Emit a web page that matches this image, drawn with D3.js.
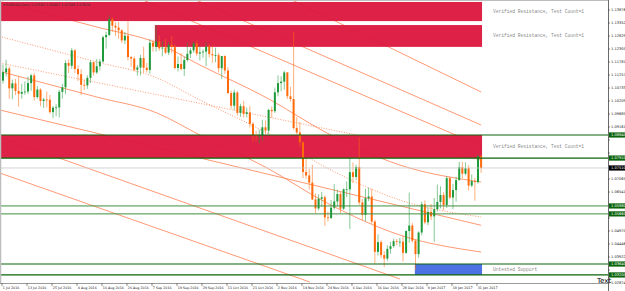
<!DOCTYPE html>
<html>
<head>
<meta charset="utf-8">
<script src="https://cdn.jsdelivr.net/npm/d3@7"></script>
<style>
  body { margin: 0; background: #fff; }
  svg { display: block; }
</style>
</head>
<body>
<div id="chart"></div>
<script>
// EURUSD daily, 1 Jul 2016 .. 1 Feb 2017 (154 bars)
const opens = [1.1103,1.1137,1.1152,1.1072,1.1092,1.1061,1.1050,1.1057,1.1059,1.1093,
 1.1124,1.1037,1.1067,1.1021,1.1027,1.1026,1.0976,1.0994,1.0995,1.1058,
 1.1076,1.1174,1.1163,1.1225,1.1150,1.1129,1.1086,1.1084,1.1114,1.1177,
 1.1136,1.1161,1.1180,1.1278,1.1287,1.1351,1.1324,1.1317,1.1306,1.1265,
 1.1284,1.1198,1.1192,1.1147,1.1156,1.1194,1.1155,1.1146,1.1256,1.1240,
 1.1261,1.1233,1.1236,1.1216,1.1247,1.1238,1.1154,1.1170,1.1150,1.1186,
 1.1211,1.1225,1.1253,1.1212,1.1217,1.1220,1.1240,1.1210,1.1205,1.1206,
 1.1153,1.1202,1.1144,1.1053,1.1002,1.1055,1.0973,1.1000,1.0969,1.0975,
 1.0929,1.0884,1.0881,1.0881,1.0915,1.0902,1.0985,1.0980,1.1056,1.1093,
 1.1099,1.1136,1.1040,1.1029,1.0912,1.0894,1.0855,1.0735,1.0721,1.0692,
 1.0624,1.0588,1.0627,1.0633,1.0552,1.0549,1.0591,1.0616,1.0646,1.0587,
 1.0665,1.0665,1.0734,1.0715,1.0755,1.0612,1.0562,1.0629,1.0636,1.0535,
 1.0413,1.0452,1.0400,1.0386,1.0425,1.0436,1.0456,1.0454,1.0454,1.0409,
 1.0497,1.0519,1.0458,1.0404,1.0491,1.0605,1.0532,1.0574,1.0556,1.0585,
 1.0614,1.0642,1.0602,1.0710,1.0632,1.0662,1.0702,1.0754,1.0728,1.0750,
 1.0680,1.0698,1.0694,1.0798];
const highs = [1.1168,1.1187,1.1160,1.1107,1.1110,1.1120,1.1090,1.1100,1.1120,1.1131,
 1.1134,1.1081,1.1072,1.1034,1.1059,1.1045,1.1000,1.1008,1.1066,1.1090,
 1.1185,1.1188,1.1234,1.1230,1.1164,1.1149,1.1106,1.1124,1.1185,1.1180,
 1.1190,1.1190,1.1284,1.1300,1.1366,1.1358,1.1338,1.1339,1.1310,1.1300,
 1.1342,1.1203,1.1200,1.1166,1.1207,1.1240,1.1174,1.1270,1.1268,1.1327,
 1.1285,1.1263,1.1271,1.1259,1.1283,1.1250,1.1200,1.1214,1.1200,1.1256,
 1.1236,1.1260,1.1265,1.1243,1.1229,1.1258,1.1250,1.1244,1.1236,1.1215,
 1.1202,1.1205,1.1157,1.1063,1.1067,1.1061,1.1010,1.1022,1.0994,1.1000,
 1.0937,1.0901,1.0906,1.0945,1.0942,1.0990,1.0999,1.1075,1.1124,1.1121,
 1.1143,1.1137,1.1078,1.1299,1.0956,1.0937,1.0857,1.0793,1.0747,1.0764,
 1.0648,1.0645,1.0655,1.0640,1.0575,1.0622,1.0686,1.0663,1.0654,1.0669,
 1.0697,1.0796,1.0773,1.0764,1.0874,1.0626,1.0667,1.0672,1.0667,1.0542,
 1.0484,1.0460,1.0416,1.0440,1.0453,1.0466,1.0465,1.0470,1.0477,1.0500,
 1.0652,1.0530,1.0462,1.0496,1.0615,1.0620,1.0592,1.0606,1.0630,1.0684,
 1.0677,1.0654,1.0718,1.0717,1.0687,1.0716,1.0775,1.0775,1.0774,1.0762,
 1.0725,1.0711,1.0805,1.0805];
const lows = [1.1092,1.1120,1.1030,1.1028,1.1045,1.0998,1.1030,1.1046,1.1050,1.1062,
 1.1022,1.1030,1.1000,1.0993,1.0995,1.0970,1.0952,1.0960,1.0955,1.1030,
 1.1048,1.1133,1.1150,1.1134,1.1102,1.1045,1.1065,1.1070,1.1093,1.1123,
 1.1130,1.1144,1.1175,1.1232,1.1282,1.1300,1.1283,1.1272,1.1254,1.1250,
 1.1184,1.1158,1.1140,1.1123,1.1124,1.1135,1.1136,1.1130,1.1220,1.1220,
 1.1223,1.1201,1.1210,1.1206,1.1214,1.1148,1.1140,1.1144,1.1122,1.1180,
 1.1194,1.1215,1.1202,1.1184,1.1195,1.1161,1.1196,1.1175,1.1177,1.1136,
 1.1110,1.1130,1.1048,1.0990,1.0985,1.0962,1.0957,1.0955,1.0955,1.0914,
 1.0858,1.0861,1.0850,1.0859,1.0887,1.0888,1.0953,1.0973,1.1040,1.1060,
 1.1066,1.1029,1.1019,1.0905,1.0887,1.0836,1.0710,1.0708,1.0665,1.0622,
 1.0569,1.0580,1.0595,1.0518,1.0535,1.0546,1.0583,1.0597,1.0570,1.0582,
 1.0634,1.0505,1.0690,1.0702,1.0602,1.0540,1.0536,1.0617,1.0526,1.0366,
 1.0398,1.0389,1.0352,1.0377,1.0405,1.0430,1.0440,1.0433,1.0374,1.0405,
 1.0450,1.0450,1.0340,1.0389,1.0480,1.0524,1.0520,1.0541,1.0453,1.0575,
 1.0588,1.0580,1.0590,1.0625,1.0585,1.0615,1.0700,1.0710,1.0722,1.0660,
 1.0674,1.0619,1.0688,1.0731];
const closes = [1.1137,1.1152,1.1072,1.1092,1.1061,1.1050,1.1057,1.1059,1.1093,1.1124,
 1.1037,1.1067,1.1021,1.1027,1.1026,1.0976,1.0994,1.0995,1.1058,1.1076,
 1.1174,1.1163,1.1225,1.1150,1.1129,1.1086,1.1084,1.1114,1.1177,1.1136,
 1.1161,1.1180,1.1278,1.1287,1.1351,1.1324,1.1317,1.1306,1.1265,1.1284,
 1.1198,1.1192,1.1147,1.1156,1.1194,1.1155,1.1146,1.1256,1.1240,1.1261,
 1.1233,1.1236,1.1216,1.1247,1.1238,1.1154,1.1170,1.1150,1.1186,1.1211,
 1.1225,1.1253,1.1212,1.1217,1.1220,1.1240,1.1210,1.1205,1.1206,1.1153,
 1.1202,1.1144,1.1053,1.1002,1.1055,1.0973,1.1000,1.0969,1.0975,1.0929,
 1.0884,1.0881,1.0881,1.0915,1.0902,1.0985,1.0980,1.1056,1.1093,1.1099,
 1.1136,1.1040,1.1029,1.0912,1.0894,1.0855,1.0735,1.0721,1.0692,1.0624,
 1.0588,1.0627,1.0633,1.0552,1.0549,1.0591,1.0616,1.0646,1.0587,1.0665,
 1.0665,1.0734,1.0715,1.0755,1.0612,1.0562,1.0629,1.0636,1.0535,1.0413,
 1.0452,1.0400,1.0386,1.0425,1.0436,1.0456,1.0454,1.0454,1.0409,1.0497,
 1.0519,1.0458,1.0404,1.0491,1.0605,1.0532,1.0574,1.0556,1.0585,1.0614,
 1.0642,1.0602,1.0710,1.0632,1.0662,1.0702,1.0754,1.0728,1.0750,1.0680,
 1.0698,1.0694,1.0798,1.0751];

// date labels, one every 8 bars
const dateLabels = ["1 Jul 2016","13 Jul 2016","25 Jul 2016","4 Aug 2016","16 Aug 2016",
 "26 Aug 2016","7 Sep 2016","19 Sep 2016","29 Sep 2016","11 Oct 2016","21 Oct 2016",
 "2 Nov 2016","14 Nov 2016","24 Nov 2016","6 Dec 2016","16 Dec 2016","28 Dec 2016",
 "9 Jan 2017","19 Jan 2017","31 Jan 2017"];
const priceTicks = [1.13876,1.13352,1.12829,1.12305,1.11781,1.11257,1.10733,1.10209,
 1.09685,1.09161,1.08637,1.08113,1.07589,1.07065,1.06541,1.06017,1.05493,1.04970,
 1.04446,1.03922,1.03398,1.02874];

// supply / demand zones: [fromBar, toBar], [top, bottom]
const zoneBars = [[-0.7,153.3],[48.6,153.3],[-0.7,153.3],[131.8,153.3]];
const zonePrices = [[1.1420,1.1343],[1.1327,1.1239],[1.0884,1.0791],[1.0364,1.0320]];
const zoneKinds = ["res","res","res","sup"];
const zoneTexts = ["Verified Resistance, Test Count=1","Verified Resistance, Test Count=1",
 "Verified Resistance, Test Count=1","Untested Support"];

// horizontal level lines (green) and current bid
const levels = [1.0884, 1.0791, 1.0598, 1.0566, 1.0364, 1.0320];
const levelStrong = [true, true, false, false, true, true];
const bid = 1.0751;

// regression channel curves: bar positions and prices
const curveBars = [-0.3, 30, 49.3, 63, 84.5, 103.7, 127, 153];
const curveUpper = [1.14199,1.13191,1.12546,1.11660,1.10330,1.08919,1.07630,1.06945];
const curveMid   = [1.12788,1.11781,1.11136,1.10249,1.08919,1.07509,1.06219,1.05534];
const curveLower = [1.11378,1.10370,1.09725,1.08839,1.07509,1.06098,1.04809,1.04124];

// straight trend lines: [bar1, price1, bar2, price2, dotted]
const trendLines = [
  [61.8, 1.14279, 153, 1.09242, false],
  [92.5, 1.14279, 153, 1.10572, false],
  [44.8, 1.14279, 153, 1.08396, false],
  [-1,   1.11740, 153, 1.07831, true],
  [-1,   1.07307, 98.2, 1.02915, false],
  [-1,   1.09846, 153, 1.05200, false],
  [-1,   1.08758, 127, 1.03036, false]
];

const title = "EURUSD,Daily  1.07563 1.08047 1.07306 1.07626";

// =====================
// set up
// =====================
const W = 625, H = 291;
const plot = {left: 1, right: 608, top: 1, bottom: 283};

const x = d3.scaleLinear().domain([0, 153]).range([3, 481.1]);
const y = d3.scaleLinear().domain([1.14239, 1.02875]).range([1, 283]);

const svg = d3.select("#chart").append("svg")
    .attr("width", W)
    .attr("height", H)
    .style("font-family", "'DejaVu Sans', sans-serif");

svg.append("rect").attr("width", W).attr("height", H).attr("fill", "#fff");

svg.append("defs").append("clipPath")
    .attr("id", "clip")
  .append("rect")
    .attr("x", plot.left).attr("y", plot.top)
    .attr("width", plot.right - plot.left)
    .attr("height", plot.bottom - plot.top);

const g = svg.append("g").attr("clip-path", "url(#clip)");

// orange lines (behind zones)
const lineCol = "#ff7f50";
const curve = d3.line().x(d => x(d[0])).y(d => y(d[1])).curve(d3.curveMonotoneX);
[[curveUpper, false], [curveMid, true], [curveLower, false]].forEach(([vals, dotted]) => {
  g.append("path")
      .datum(curveBars.map((b, i) => [b, vals[i]]))
      .attr("d", curve)
      .attr("fill", "none")
      .attr("stroke", lineCol)
      .attr("stroke-width", 0.8)
      .attr("stroke-dasharray", dotted ? "1,1.6" : null);
});

g.selectAll(".trend")
  .data(trendLines)
  .join("line")
    .attr("class", "trend")
    .attr("x1", d => x(d[0])).attr("y1", d => y(d[1]))
    .attr("x2", d => x(d[2])).attr("y2", d => y(d[3]))
    .attr("stroke", lineCol)
    .attr("stroke-width", 0.8)
    .attr("stroke-dasharray", d => d[4] ? "1,1.6" : null);

// zones
g.selectAll(".zone")
  .data(zoneBars.map((b, i) => ({b, p: zonePrices[i], kind: zoneKinds[i]})))
  .join("rect")
    .attr("class", "zone")
    .attr("x", d => x(d.b[0]))
    .attr("y", d => y(d.p[0]))
    .attr("width", d => x(d.b[1]) - x(d.b[0]))
    .attr("height", d => y(d.p[1]) - y(d.p[0]))
    .attr("fill", d => d.kind === "res" ? "#dc143c" : "#4169e1")
    .attr("fill-opacity", 0.94);

// zone texts
svg.selectAll(".ztxt")
  .data(zoneTexts)
  .join("text")
    .attr("class", "ztxt")
    .attr("x", x(153.3) + 11)
    .attr("y", (d, i) => (y(zonePrices[i][0]) + y(zonePrices[i][1])) / 2 + 1.5)
    .attr("font-family", "'Liberation Mono', monospace")
    .attr("font-size", 4.6)
    .attr("fill", "#8a8a8a")
    .text(d => d);

// level lines
svg.selectAll(".lvl")
  .data(levels)
  .join("line")
    .attr("class", "lvl")
    .attr("x1", plot.left).attr("x2", plot.right)
    .attr("y1", d => y(d)).attr("y2", d => y(d))
    .attr("stroke", (d, i) => levelStrong[i] ? "#0a640a" : "#3f8f3f")
    .attr("stroke-width", (d, i) => levelStrong[i] ? 1.2 : 1);

// bid line
svg.append("line")
    .attr("x1", plot.left).attr("x2", plot.right)
    .attr("y1", y(bid)).attr("y2", y(bid))
    .attr("stroke", "#c8c8c8").attr("stroke-width", 0.8);

// candles
const bars = d3.range(opens.length).map(i => ({
  i, o: opens[i], h: highs[i], l: lows[i], c: closes[i]
}));
const bull = "#1f9a3a", bear = "#ff6a0a";
const cg = g.append("g");
cg.selectAll(".wick")
  .data(bars)
  .join("line")
    .attr("class", "wick")
    .attr("x1", d => x(d.i)).attr("x2", d => x(d.i))
    .attr("y1", d => y(d.h)).attr("y2", d => y(d.l))
    .attr("stroke", d => d.c >= d.o ? bull : bear)
    .attr("stroke-opacity", 0.6)
    .attr("stroke-width", 0.9);
cg.selectAll(".body")
  .data(bars)
  .join("rect")
    .attr("class", "body")
    .attr("x", d => x(d.i) - 1)
    .attr("width", 2)
    .attr("y", d => y(Math.max(d.o, d.c)))
    .attr("height", d => Math.max(0.8, Math.abs(y(d.o) - y(d.c))))
    .attr("fill", d => d.c >= d.o ? bull : bear);

// frame
svg.append("line").attr("x1", 0.5).attr("x2", 0.5).attr("y1", 0).attr("y2", plot.bottom)
    .attr("stroke", "#bdbdbd").attr("stroke-width", 1.5);
svg.append("line").attr("x1", 0).attr("x2", plot.right).attr("y1", 0.5).attr("y2", 0.5)
    .attr("stroke", "#bdbdbd").attr("stroke-width", 1);
svg.append("line").attr("x1", 0).attr("x2", plot.right).attr("y1", plot.bottom + 0.5).attr("y2", plot.bottom + 0.5)
    .attr("stroke", "#9a9a9a").attr("stroke-width", 1);
svg.append("line").attr("x1", plot.right + 0.5).attr("x2", plot.right + 0.5).attr("y1", 0).attr("y2", H)
    .attr("stroke", "#6a6a6a").attr("stroke-width", 1);

// price axis: plain labels are hidden where a highlighted label sits
const hl = levels.map(v => ({v, bg: "#0a640a"})).concat([{v: bid, bg: "#000"}]);
const freeTicks = priceTicks.filter(t => hl.every(h => Math.abs(y(h.v) - y(t)) > 5.5));

const ax = svg.append("g");
ax.selectAll(".pt")
  .data(priceTicks)
  .join("line")
    .attr("class", "pt")
    .attr("x1", plot.right).attr("x2", plot.right + 2)
    .attr("y1", d => y(d)).attr("y2", d => y(d))
    .attr("stroke", "#444").attr("stroke-width", 0.6);
ax.selectAll(".pl")
  .data(freeTicks)
  .join("text")
    .attr("class", "pl")
    .attr("x", plot.right + 3)
    .attr("y", d => y(d) + 1.3)
    .attr("font-size", 3.6)
    .attr("fill", "#222")
    .text(d => d.toFixed(5));

ax.selectAll(".hlr")
  .data(hl)
  .join("rect")
    .attr("class", "hlr")
    .attr("x", plot.right + 1).attr("width", 16)
    .attr("y", d => y(d.v) - 2.6).attr("height", 5.2)
    .attr("fill", d => d.bg);
ax.selectAll(".hlt")
  .data(hl)
  .join("text")
    .attr("class", "hlt")
    .attr("x", plot.right + 3)
    .attr("y", d => y(d.v) + 1.3)
    .attr("font-size", 3.6)
    .attr("fill", "#fff")
    .text(d => d.v.toFixed(5));

// time axis
ax.selectAll(".dt")
  .data(dateLabels)
  .join("line")
    .attr("class", "dt")
    .attr("x1", (d, i) => x(i * 8) - 1).attr("x2", (d, i) => x(i * 8) - 1)
    .attr("y1", plot.bottom).attr("y2", plot.bottom + 3)
    .attr("stroke", "#444").attr("stroke-width", 0.6);
ax.selectAll(".dl")
  .data(dateLabels)
  .join("text")
    .attr("class", "dl")
    .attr("x", (d, i) => x(i * 8) - 0.2)
    .attr("y", plot.bottom + 6)
    .attr("font-size", 3.3)
    .attr("fill", "#222")
    .text(d => d);

// title
svg.append("text")
    .attr("x", 3).attr("y", 6)
    .attr("font-size", 3.4)
    .attr("fill", "#333")
    .text("\u25BE " + title);

svg.append("text")
    .attr("x", 597).attr("y", 283)
    .attr("font-size", 7)
    .attr("fill", "#000")
    .text("Text");
</script>
</body>
</html>
